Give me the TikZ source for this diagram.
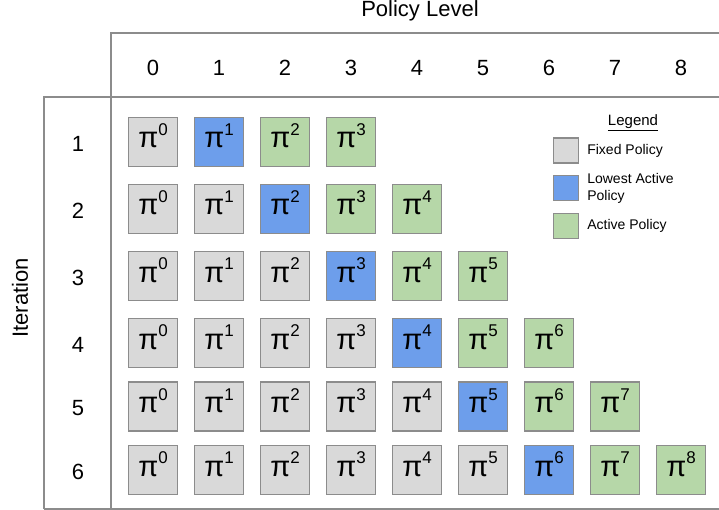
\documentclass[tikz,border=0pt]{standalone}
\usepackage{fontspec}
\setmainfont{Liberation Sans}
\usetikzlibrary{positioning}
\definecolor{framegray}{RGB}{140,140,140}
\definecolor{fixedgray}{RGB}{217,217,217}
\definecolor{lowblue}{RGB}{109,158,235}
\definecolor{activegreen}{RGB}{182,215,168}
\newcommand{\polname}[1]{π\raisebox{12.5pt}{\fontsize{17}{17}\selectfont #1}}

\begin{document}
\begin{tikzpicture}[x=1pt,y=-1pt,
  polbox/.style={draw=framegray,line width=1.2pt,minimum size=49pt,inner sep=0pt,
    text height=12pt,text depth=0pt,font=\fontsize{29}{29}\selectfont},
  legbox/.style={draw=framegray,line width=1.2pt,minimum size=25pt,inner sep=0pt},
  legtext/.style={font=\fontsize{14}{17}\selectfont,align=left,inner sep=2pt},
  bigtext/.style={font=\fontsize{22}{26}\selectfont}]
  \useasboundingbox (0,0) rectangle (719,510);

  % Table frame
  \draw[framegray,line width=1.2pt] (111,509) -- (111,33) -- (719,33);
  \draw[framegray,line width=1.2pt] (44,509) -- (44,97) -- (719,97);
  \draw[framegray,line width=1.2pt] (44,509) -- (719,509);

  % Axis titles
  \node[bigtext,anchor=base] (leveltitle) at (420,17) {Policy Level};
  \node[bigtext,rotate=90] (itertitle) at (20,298) {Iteration};

  % Policy level headers
  \foreach \c in {0,...,8}
    \node[bigtext] (lvl\c) at (153+66*\c,68) {\c};

  % Iterations: fixed, lowest active and active policies
  \foreach \r/\y in {1/142,2/209,3/276,4/343,5/406.5,6/470} {
    \node[bigtext] (iter\r) at (78,\y+2) {\r};
    \pgfmathtruncatemacro\last{\r+2}
    \foreach \c in {0,...,\last} {
      \ifnum\c<\r \def\kind{fixedgray}\else
        \ifnum\c=\r \def\kind{lowblue}\else \def\kind{activegreen}\fi\fi
      \node[polbox,fill=\kind] (p\r-\c) at (153+66*\c,\y) {\polname{\c}};
    }
  }

  % Legend
  \node[font=\fontsize{15}{18}\selectfont] (legtitle) at (633,123) {\underline{Legend}};
  \node[legbox,fill=fixedgray] (legfixed) at (566,150.5) {};
  \node[legbox,fill=lowblue] (leglowest) at (566,188) {};
  \node[legbox,fill=activegreen] (legactive) at (566,226) {};
  \node[legtext,right=6pt of legfixed] (txtfixed) {Fixed Policy};
  \node[legtext,right=6pt of leglowest] (txtlowest) {Lowest Active\\Policy};
  \node[legtext,right=6pt of legactive] (txtactive) {Active Policy};
\end{tikzpicture}
\end{document}
